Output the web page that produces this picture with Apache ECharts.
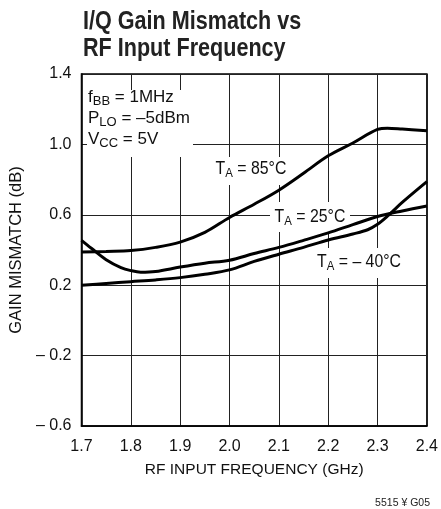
<!DOCTYPE html>
<html>
<head>
<meta charset="utf-8">
<script src="https://cdn.jsdelivr.net/npm/echarts@6/dist/echarts.min.js"></script>
<style>
  html, body { margin: 0; padding: 0; background: #fff; }
  #chart { width: 441px; height: 509px; }
</style>
</head>
<body>
<div id="chart"></div>
<script>
// ---- data ----
const freq85 = [1.7, 1.75, 1.8, 1.85, 1.9, 1.95, 2.0, 2.05, 2.1, 2.15, 2.2, 2.25, 2.3, 2.32, 2.35, 2.4];
const gain85 = [0.388, 0.392, 0.397, 0.415, 0.445, 0.500, 0.585, 0.660, 0.740, 0.836, 0.935, 1.008, 1.085, 1.092, 1.087, 1.077];

const freq25 = [1.7, 1.72, 1.75, 1.78, 1.8, 1.82, 1.85, 1.9, 1.95, 2.0, 2.05, 2.1, 2.15, 2.2, 2.25, 2.3, 2.35, 2.4];
const gain25 = [0.455, 0.410, 0.345, 0.300, 0.283, 0.274, 0.278, 0.303, 0.325, 0.342, 0.380, 0.415, 0.455, 0.497, 0.544, 0.590, 0.622, 0.650];

const freqM40 = [1.7, 1.75, 1.8, 1.85, 1.9, 1.95, 2.0, 2.05, 2.1, 2.15, 2.2, 2.25, 2.28, 2.3, 2.32, 2.35, 2.4];
const gainM40 = [0.200, 0.210, 0.220, 0.230, 0.243, 0.262, 0.287, 0.335, 0.376, 0.415, 0.457, 0.491, 0.515, 0.546, 0.592, 0.670, 0.788];

const xTicks = [1.7, 1.8, 1.9, 2.0, 2.1, 2.2, 2.3, 2.4];
const xTickLabels = ['1.7', '1.8', '1.9', '2.0', '2.1', '2.2', '2.3', '2.4'];
const yTicks = [-0.6, -0.2, 0.2, 0.6, 1.0, 1.4];
const yTickLabels = ['\u2013 0.6', '\u2013 0.2', '0.2', '0.6', '1.0', '1.4'];

const titleText = 'I/Q Gain Mismatch vs\nRF Input Frequency';
const xName = 'RF INPUT FREQUENCY (GHz)';
const yName = 'GAIN MISMATCH (dB)';
const footnote = '5515 \u00A5 G05';

// ---- helpers ----
const FONT = "'Liberation Sans', Arial, sans-serif";
function pair(xs, ys) { return xs.map((x, i) => [x, ys[i]]); }
function findLabel(v, ticks, labels) {
  for (let i = 0; i < ticks.length; i++) if (Math.abs(v - ticks[i]) < 1e-6) return labels[i];
  return '';
}

const chart = echarts.init(document.getElementById('chart'), null, { renderer: 'canvas' });

const subStyle = { fontFamily: FONT, fontSize: 13, padding: [8, 0, 0, 0], lineHeight: 21, fill: '#111' };

function curveLabel(text, cx, cy) {
  return { type: 'text', z: 2, x: cx, y: cy, scaleX: 0.88, style: {
    text: text, align: 'center', verticalAlign: 'middle',
    fontFamily: FONT, fontSize: 18, lineHeight: 21, fill: '#111', rich: { sub: subStyle }
  } };
}

const option = {
  animation: false,
  backgroundColor: '#fff',
  grid: {
    left: 77, right: 12, top: 74, bottom: 83,
    show: true, borderColor: '#000', borderWidth: 1.5, backgroundColor: 'transparent'
  },
  xAxis: {
    type: 'value',
    min: xTicks[0], max: xTicks[xTicks.length - 1], interval: 0.1,
    axisLine: { show: true, onZero: false, lineStyle: { color: '#000', width: 1.5 } },
    axisTick: { show: false },
    splitLine: { show: true, lineStyle: { color: '#222', width: 1 } },
    axisLabel: {
      margin: 13, fontFamily: FONT, fontSize: 16, color: '#111',
      formatter: v => findLabel(v, xTicks, xTickLabels)
    },
    name: xName, nameLocation: 'middle', nameGap: 36,
    nameTextStyle: { fontFamily: FONT, fontSize: 15.5, color: '#111' }
  },
  yAxis: [
    {
      type: 'value',
      min: -0.6, max: 1.4, interval: 0.2,
      axisLine: { show: true, onZero: false, lineStyle: { color: '#000', width: 1.5 } },
      axisTick: { show: false },
      splitLine: { show: false },
      axisLabel: {
        margin: 10, fontFamily: FONT, fontSize: 16, color: '#111',
        formatter: v => findLabel(v, yTicks, yTickLabels)
      },
      name: yName, nameLocation: 'middle', nameGap: 47, nameRotate: 90,
      nameTextStyle: { fontFamily: FONT, fontSize: 16.5, color: '#111' }
    },
    {
      // grid lines every 0.4 starting from the bottom tick
      type: 'value',
      min: 0, max: yTicks[yTicks.length - 1] - yTicks[0], interval: yTicks[1] - yTicks[0],
      position: 'right',
      axisLine: { show: false }, axisTick: { show: false }, axisLabel: { show: false },
      splitLine: { show: true, lineStyle: { color: '#222', width: 1 } }
    }
  ],
  series: [
    { name: 'TA = 85°C', type: 'line', data: pair(freq85, gain85), smooth: 0.35, symbol: 'none',
      lineStyle: { color: '#000', width: 3 }, z: 3 },
    { name: 'TA = 25°C', type: 'line', data: pair(freq25, gain25), smooth: 0.35, symbol: 'none',
      lineStyle: { color: '#000', width: 3 }, z: 3 },
    { name: 'TA = –40°C', type: 'line', data: pair(freqM40, gainM40), smooth: 0.35, symbol: 'none',
      lineStyle: { color: '#000', width: 3 }, z: 3 }
  ],
  graphic: [
    // title
    { type: 'text', z: 2, x: 83, y: 8, scaleX: 0.83, style: {
        text: titleText, align: 'left', verticalAlign: 'top',
        fontFamily: FONT, fontWeight: 'bold', fontSize: 26, lineHeight: 27, fill: '#222'
    } },
    // conditions box
    { type: 'rect', z: 1, shape: { x: 87, y: 90, width: 106, height: 67 }, style: { fill: '#fff' } },
    { type: 'text', z: 2, x: 88, y: 86.5, style: {
        text: 'f{sub|BB} = 1MHz\nP{sub|LO} = \u20135dBm\nV{sub|CC} = 5V',
        fontFamily: FONT, fontSize: 17, lineHeight: 21, fill: '#111',
        rich: { sub: subStyle }
    } },
    // curve labels
    { type: 'rect', z: 1, shape: { x: 209, y: 157, width: 80, height: 28 }, style: { fill: '#fff' } },
    curveLabel('T{sub|A} = 85°C', 251, 169),
    { type: 'rect', z: 1, shape: { x: 270, y: 202, width: 80, height: 30 }, style: { fill: '#fff' } },
    curveLabel('T{sub|A} = 25°C', 310, 217),
    { type: 'rect', z: 1, shape: { x: 312, y: 248, width: 93, height: 30 }, style: { fill: '#fff' } },
    curveLabel('T{sub|A} = \u2013 40°C', 359, 262),
    // footnote
    { type: 'text', x: 430, y: 503.5, style: {
        text: footnote, align: 'right', verticalAlign: 'middle',
        fontFamily: FONT, fontSize: 10.5, fill: '#222'
    } }
  ]
};
chart.setOption(option);
</script>
</body>
</html>
